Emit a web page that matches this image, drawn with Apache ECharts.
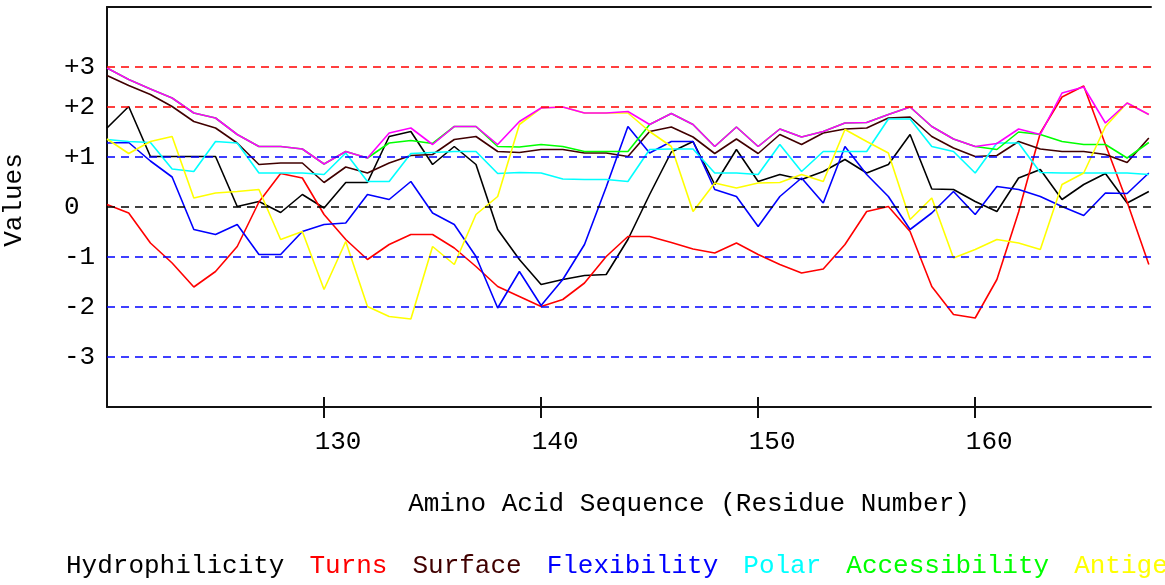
<!DOCTYPE html>
<html>
<head>
<meta charset="utf-8">
<script src="https://cdn.jsdelivr.net/npm/echarts@6/dist/echarts.min.js"></script>
<style>
html,body{margin:0;padding:0;background:#fff;}
#chart{width:1165px;height:585px;}
</style>
</head>
<body>
<div id="chart"></div>
<script>
const residues = [120,121,122,123,124,125,126,127,128,129,130,131,132,133,134,135,136,137,138,139,140,141,142,143,144,145,146,147,148,149,150,151,152,153,154,155,156,157,158,159,160,161,162,163,164,165,166,167,168];

const hydrophilicity = [1.58,2.01,1.01,1.01,1.01,1.01,0.01,0.11,-0.11,0.25,-0.02,0.49,0.49,1.41,1.51,0.85,1.21,0.85,-0.45,-1.05,-1.55,-1.45,-1.37,-1.35,-0.65,0.25,1.10,1.31,0.45,1.15,0.51,0.65,0.55,0.71,0.95,0.68,0.85,1.45,0.36,0.35,0.11,-0.09,0.58,0.75,0.15,0.45,0.67,0.08,0.31];
const turns = [0.05,-0.12,-0.72,-1.12,-1.60,-1.29,-0.79,0.10,0.67,0.58,-0.15,-0.65,-1.05,-0.75,-0.55,-0.55,-0.82,-1.19,-1.59,-1.79,-1.99,-1.85,-1.52,-0.99,-0.59,-0.59,-0.71,-0.84,-0.92,-0.72,-0.95,-1.15,-1.32,-1.24,-0.75,-0.09,0.01,-0.49,-1.59,-2.15,-2.22,-1.45,-0.10,1.48,2.20,2.42,1.25,0.10,-1.15];
const surface = [2.63,2.43,2.25,2.01,1.71,1.58,1.28,0.85,0.88,0.88,0.49,0.80,0.68,0.88,1.03,1.05,1.35,1.41,1.11,1.09,1.15,1.15,1.08,1.08,1.01,1.51,1.60,1.40,1.07,1.36,1.07,1.45,1.25,1.48,1.56,1.58,1.78,1.80,1.41,1.18,1.01,1.03,1.31,1.16,1.11,1.11,1.05,0.89,1.38];
const flexibility = [1.28,1.29,0.92,0.60,-0.45,-0.55,-0.35,-0.95,-0.95,-0.49,-0.35,-0.32,0.25,0.15,0.51,-0.12,-0.35,-0.99,-2.02,-1.29,-1.97,-1.45,-0.75,0.40,1.61,1.08,1.31,1.31,0.35,0.21,-0.39,0.21,0.58,0.08,1.21,0.65,0.21,-0.45,-0.12,0.31,-0.15,0.41,0.35,0.21,0.01,-0.17,0.28,0.27,0.68];
const polar = [1.35,1.31,1.29,0.76,0.71,1.31,1.28,0.68,0.68,0.68,0.65,1.08,0.51,0.51,1.07,1.09,1.11,1.11,0.67,0.69,0.68,0.56,0.55,0.55,0.51,1.15,1.16,1.16,0.68,0.68,0.65,1.25,0.71,1.11,1.11,1.11,1.76,1.76,1.21,1.11,0.68,1.28,1.28,0.69,0.68,0.68,0.68,0.68,0.65];
const accessibility = [2.78,2.55,2.36,2.18,1.88,1.78,1.45,1.21,1.21,1.16,0.86,1.11,0.98,1.28,1.33,1.27,1.61,1.61,1.21,1.20,1.25,1.21,1.11,1.11,1.11,1.65,1.87,1.65,1.21,1.60,1.21,1.56,1.40,1.51,1.68,1.69,1.85,2.00,1.61,1.36,1.21,1.15,1.50,1.45,1.31,1.25,1.25,0.98,1.29];
const antigenic = [1.36,1.07,1.31,1.41,0.18,0.28,0.31,0.35,-0.65,-0.49,-1.65,-0.69,-1.99,-2.19,-2.24,-0.79,-1.15,-0.15,0.21,1.65,1.98,2.00,1.88,1.88,1.88,1.51,1.21,-0.09,0.48,0.38,0.48,0.49,0.65,0.51,1.55,1.31,1.08,-0.25,0.18,-1.02,-0.85,-0.65,-0.72,-0.85,0.45,0.68,1.61,2.08,1.85];
const exposed = [2.78,2.55,2.36,2.18,1.88,1.78,1.45,1.21,1.21,1.16,0.86,1.11,0.98,1.48,1.58,1.25,1.61,1.61,1.25,1.71,1.98,2.00,1.88,1.88,1.91,1.65,1.87,1.65,1.21,1.60,1.21,1.56,1.40,1.51,1.68,1.69,1.85,2.00,1.61,1.36,1.21,1.27,1.56,1.45,2.28,2.40,1.68,2.08,1.85];

const seriesNames = ['Hydrophilicity','Turns','Surface','Flexibility','Polar','Accessibility','Antigenic','Exposed'];
const seriesColors = ['#000000','#ff0000','#400000','#0000ff','#00ffff','#00ff00','#ffff00','#ff00ff'];
const seriesValues = [hydrophilicity, turns, surface, flexibility, polar, accessibility, antigenic, exposed];

const xTickValues = [130,140,150,160];
const yTickValues = [2.8,2,1,0,-1,-2,-3];
const yTickLabels = ['+3','+2','+1','0','-1','-2','-3'];
const refLineColors = ['#ff0000','#ff0000','#0000ff','#000000','#0000ff','#0000ff','#0000ff'];

const FONT = 'Liberation Mono, DejaVu Sans Mono, monospace';

const chart = echarts.init(document.getElementById('chart'), null, {renderer:'canvas'});

const dataSeries = seriesNames.map((name, i) => ({
  name: name,
  type: 'line',
  z: 3,
  data: residues.map((r, k) => [r, seriesValues[i][k]]),
  symbol: 'none',
  showSymbol: false,
  animation: false,
  clip: true,
  lineStyle: {color: seriesColors[i], width: 1.6},
  itemStyle: {color: seriesColors[i]}
}));

const refSeries = {
  name: '__ref',
  type: 'line',
  z: 1,
  data: [],
  silent: true,
  animation: false,
  markLine: {
    symbol: 'none',
    silent: true,
    animation: false,
    label: {show: false},
    data: yTickValues.map((v, i) => ({
      yAxis: v,
      lineStyle: {color: refLineColors[i], type: [8, 6], width: 1.5}
    }))
  }
};

const option = {
  backgroundColor: '#ffffff',
  animation: false,
  grid: {left: 107, right: 14, top: 7, bottom: 178, outerBoundsMode: 'none', containLabel: false},
  legend: {
    left: 56, top: 548, width: 1800,
    orient: 'horizontal',
    itemWidth: 0, itemHeight: 0, itemGap: 20,
    icon: 'rect',
    itemStyle: {opacity: 0},
    selectedMode: false,
    textStyle: {fontFamily: FONT, fontSize: 26},
    data: seriesNames.map((n, i) => ({name: n, textStyle: {color: seriesColors[i]}}))
  },
  xAxis: [
    {
      type: 'value', min: 120, max: 168.1, position: 'bottom',
      name: 'Amino Acid Sequence (Residue Number)',
      nameLocation: 'middle', nameGap: 84,
      nameTextStyle: {fontFamily: FONT, fontSize: 26, color: '#000', padding: [0, 0, 0, 120]},
      axisLine: {show: true, onZero: false, lineStyle: {color: '#111', width: 2}},
      axisTick: {show: true, customValues: xTickValues, length: 11, lineStyle: {color: '#111', width: 2}},
      axisLabel: {customValues: xTickValues, fontFamily: FONT, fontSize: 26, color: '#000', margin: 22, align: 'center', padding: [0, 0, 0, 28]},
      splitLine: {show: false}
    },
    {
      type: 'value', min: 120, max: 168.1, position: 'bottom',
      axisLine: {show: false, onZero: false},
      axisTick: {show: true, inside: true, customValues: xTickValues, length: 10, lineStyle: {color: '#111', width: 2}},
      axisLabel: {show: false},
      splitLine: {show: false}
    },
    {
      type: 'value', min: 120, max: 168.1, position: 'top',
      axisLine: {show: true, onZero: false, lineStyle: {color: '#111', width: 2}},
      axisTick: {show: false},
      axisLabel: {show: false},
      splitLine: {show: false}
    }
  ],
  yAxis: {
    type: 'value', min: -4, max: 4,
    name: 'Values', nameLocation: 'middle', nameGap: 80, nameRotate: 90,
    nameTextStyle: {fontFamily: FONT, fontSize: 26, color: '#000', padding: [0, 0, 0, 14]},
    axisLine: {show: true, onZero: false, lineStyle: {color: '#111', width: 2}},
    axisTick: {show: false},
    splitLine: {show: false},
    axisLabel: {
      customValues: yTickValues,
      formatter: function (v) { const k = yTickValues.indexOf(v); return k >= 0 ? yTickLabels[k] : ''; },
      fontFamily: FONT, fontSize: 26, color: '#000', align: 'left', margin: 43
    }
  },
  series: [refSeries].concat(dataSeries)
};

chart.setOption(option);
</script>
</body>
</html>
